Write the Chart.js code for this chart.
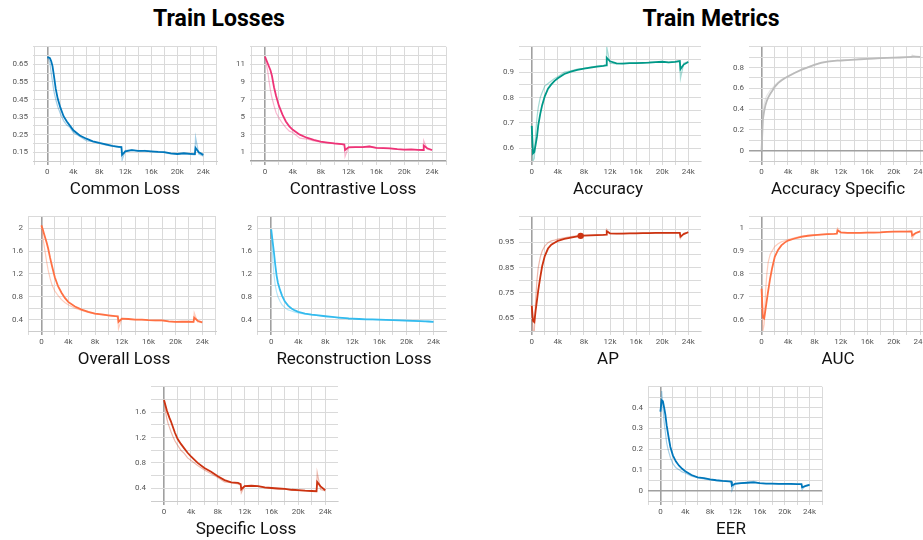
<!DOCTYPE html>
<html>
<head>
<meta charset="utf-8">
<script src="https://cdn.jsdelivr.net/npm/chart.js@4.4.1/dist/chart.umd.min.js"></script>
<style>
  html, body { margin: 0; padding: 0; background: #fff; width: 923px; height: 540px; overflow: hidden; }
  #board { position: relative; width: 923px; height: 540px; overflow: hidden; }
  canvas { position: absolute; }
  .head { position: absolute; font: bold 23px Roboto, sans-serif; color: #000; transform: translate(-50%, -50%); white-space: nowrap; }
  .cap { position: absolute; font: 17px Roboto, sans-serif; color: #111; transform: translate(-50%, -50%); white-space: nowrap; }
</style>
</head>
<body>
<div id="board"></div>
<script>
// Training steps at which the scalars were logged
const steps = [0, 200, 400, 600, 800, 1000, 1300, 1600, 2000, 2500, 3000, 3500, 4000, 5000, 6000, 7000, 8000, 9000, 10000, 11000, 11400, 11500, 12000, 13000, 14000, 15000, 16000, 17000, 18000, 19000, 20000, 21000, 22000, 22700, 22800, 23300, 24000];

// Smoothed curves and the raw values behind them
const commonLoss = [0.69, 0.69, 0.685, 0.668, 0.64, 0.59, 0.51, 0.455, 0.405, 0.355, 0.325, 0.3, 0.275, 0.245, 0.227, 0.212, 0.203, 0.195, 0.186, 0.181, 0.179, 0.135, 0.155, 0.162, 0.158, 0.158, 0.155, 0.152, 0.15, 0.143, 0.14, 0.144, 0.141, 0.139, 0.175, 0.15, 0.135];
const commonLossRaw = [0.69, 0.68, 0.66, 0.6, 0.55, 0.5, 0.45, 0.41, 0.37, 0.33, 0.305, 0.29, 0.262, 0.24, 0.215, 0.21, 0.2, 0.19, 0.184, 0.178, 0.18, 0.105, 0.16, 0.165, 0.155, 0.16, 0.152, 0.155, 0.148, 0.14, 0.142, 0.14, 0.138, 0.135, 0.235, 0.14, 0.128];

const contrastiveLoss = [11.9, 11.5, 11.1, 10.7, 10.3, 9.7, 8.4, 7.4, 6.3, 5.3, 4.5, 3.95, 3.55, 3.0, 2.65, 2.4, 2.2, 2.1, 2.0, 1.92, 1.88, 1.25, 1.55, 1.58, 1.57, 1.65, 1.5, 1.47, 1.44, 1.35, 1.3, 1.32, 1.27, 1.25, 1.75, 1.45, 1.25];
const contrastiveLossRaw = [11.8, 11.0, 10.2, 9.0, 8.0, 7.2, 6.3, 5.5, 4.9, 4.3, 3.8, 3.4, 3.25, 2.6, 2.5, 2.3, 2.15, 2.05, 1.95, 1.9, 1.85, 0.5, 1.6, 1.6, 1.55, 1.7, 1.48, 1.5, 1.4, 1.32, 1.3, 1.3, 1.25, 1.2, 2.3, 1.35, 1.2];

const accuracy = [0.688, 0.58, 0.585, 0.615, 0.645, 0.69, 0.735, 0.77, 0.805, 0.835, 0.852, 0.866, 0.876, 0.893, 0.902, 0.909, 0.914, 0.918, 0.922, 0.925, 0.927, 0.957, 0.943, 0.935, 0.934, 0.936, 0.936, 0.937, 0.938, 0.94, 0.941, 0.939, 0.941, 0.944, 0.912, 0.93, 0.94];
const accuracyRaw = [0.69, 0.55, 0.56, 0.66, 0.72, 0.76, 0.8, 0.82, 0.845, 0.855, 0.865, 0.875, 0.882, 0.9, 0.905, 0.912, 0.915, 0.92, 0.924, 0.926, 0.93, 1.0, 0.935, 0.933, 0.935, 0.935, 0.937, 0.936, 0.94, 0.94, 0.94, 0.938, 0.942, 0.945, 0.875, 0.935, 0.942];

const accuracySpecific = [0.0, 0.3, 0.38, 0.44, 0.48, 0.51, 0.545, 0.575, 0.615, 0.65, 0.675, 0.697, 0.714, 0.748, 0.778, 0.802, 0.825, 0.845, 0.857, 0.864, 0.867, 0.867, 0.868, 0.872, 0.876, 0.88, 0.884, 0.887, 0.89, 0.893, 0.895, 0.897, 0.9, 0.902, 0.905, 0.906, 0.903];
const accuracySpecificRaw = [0.0, 0.35, 0.45, 0.5, 0.53, 0.55, 0.58, 0.6, 0.63, 0.66, 0.685, 0.7, 0.72, 0.752, 0.782, 0.805, 0.828, 0.85, 0.86, 0.865, 0.87, 0.872, 0.866, 0.874, 0.875, 0.882, 0.883, 0.889, 0.889, 0.894, 0.894, 0.898, 0.9, 0.905, 0.92, 0.905, 0.902];

const overallLoss = [2.05, 1.98, 1.9, 1.82, 1.74, 1.65, 1.48, 1.33, 1.14, 0.98, 0.87, 0.78, 0.71, 0.63, 0.575, 0.535, 0.505, 0.49, 0.475, 0.46, 0.455, 0.36, 0.415, 0.41, 0.4, 0.4, 0.39, 0.385, 0.385, 0.37, 0.36, 0.365, 0.362, 0.36, 0.435, 0.38, 0.35];
const overallLossRaw = [2.05, 1.85, 1.7, 1.55, 1.4, 1.27, 1.12, 1.0, 0.9, 0.82, 0.75, 0.7, 0.66, 0.6, 0.56, 0.525, 0.5, 0.48, 0.47, 0.455, 0.45, 0.24, 0.42, 0.405, 0.4, 0.395, 0.385, 0.38, 0.38, 0.365, 0.36, 0.36, 0.355, 0.355, 0.52, 0.36, 0.345];

const reconstructionLoss = [1.98, 1.78, 1.58, 1.36, 1.17, 1.04, 0.92, 0.82, 0.72, 0.645, 0.595, 0.56, 0.535, 0.505, 0.487, 0.472, 0.458, 0.446, 0.435, 0.425, 0.42, 0.418, 0.415, 0.41, 0.405, 0.402, 0.398, 0.394, 0.39, 0.387, 0.383, 0.378, 0.373, 0.37, 0.37, 0.366, 0.36];
const reconstructionLossRaw = [1.98, 1.5, 1.2, 1.0, 0.88, 0.8, 0.72, 0.66, 0.61, 0.57, 0.55, 0.53, 0.515, 0.497, 0.48, 0.468, 0.455, 0.445, 0.43, 0.422, 0.42, 0.415, 0.412, 0.408, 0.403, 0.4, 0.396, 0.392, 0.388, 0.385, 0.38, 0.376, 0.371, 0.368, 0.368, 0.364, 0.358];

const ap = [0.70, 0.64, 0.635, 0.68, 0.72, 0.76, 0.81, 0.855, 0.895, 0.925, 0.94, 0.948, 0.955, 0.963, 0.968, 0.973, 0.976, 0.977, 0.978, 0.979, 0.98, 0.993, 0.985, 0.984, 0.984, 0.985, 0.985, 0.986, 0.986, 0.987, 0.987, 0.987, 0.987, 0.987, 0.972, 0.982, 0.989];
const apRaw = [0.70, 0.6, 0.6, 0.72, 0.8, 0.85, 0.89, 0.915, 0.935, 0.948, 0.955, 0.958, 0.962, 0.967, 0.972, 0.975, 0.977, 0.978, 0.979, 0.98, 0.98, 1.0, 0.984, 0.984, 0.985, 0.985, 0.986, 0.986, 0.987, 0.987, 0.988, 0.987, 0.988, 0.988, 0.965, 0.985, 0.99];
// Highlighted sample on the AP curve
const apMarkerStep = 7500;
const apMarkerValue = 0.975;

const auc = [0.735, 0.61, 0.605, 0.645, 0.685, 0.725, 0.78, 0.825, 0.875, 0.905, 0.925, 0.937, 0.946, 0.955, 0.962, 0.967, 0.97, 0.972, 0.974, 0.975, 0.976, 0.99, 0.982, 0.98, 0.98, 0.98, 0.981, 0.981, 0.982, 0.984, 0.985, 0.985, 0.985, 0.986, 0.968, 0.978, 0.986];
const aucRaw = [0.735, 0.55, 0.58, 0.72, 0.8, 0.85, 0.885, 0.9, 0.92, 0.932, 0.94, 0.945, 0.95, 0.958, 0.965, 0.968, 0.971, 0.973, 0.975, 0.976, 0.977, 1.0, 0.98, 0.981, 0.98, 0.981, 0.982, 0.982, 0.983, 0.985, 0.985, 0.986, 0.986, 0.987, 0.955, 0.98, 0.987];

const specificLoss = [1.79, 1.71, 1.63, 1.57, 1.51, 1.46, 1.37, 1.28, 1.18, 1.1, 1.03, 0.96, 0.905, 0.8, 0.72, 0.66, 0.59, 0.53, 0.495, 0.485, 0.465, 0.385, 0.435, 0.44, 0.435, 0.415, 0.405, 0.397, 0.39, 0.377, 0.37, 0.362, 0.358, 0.354, 0.5, 0.43, 0.37];
const specificLossRaw = [1.8, 1.62, 1.5, 1.42, 1.36, 1.3, 1.22, 1.15, 1.08, 1.0, 0.95, 0.88, 0.84, 0.76, 0.69, 0.63, 0.57, 0.5, 0.49, 0.47, 0.455, 0.33, 0.44, 0.43, 0.43, 0.405, 0.4, 0.39, 0.385, 0.372, 0.365, 0.36, 0.352, 0.35, 0.65, 0.38, 0.36];

const eer = [0.38, 0.435, 0.43, 0.4, 0.365, 0.315, 0.26, 0.21, 0.17, 0.14, 0.12, 0.105, 0.093, 0.075, 0.064, 0.06, 0.054, 0.05, 0.047, 0.045, 0.044, 0.024, 0.033, 0.036, 0.038, 0.04, 0.036, 0.034, 0.034, 0.032, 0.032, 0.032, 0.031, 0.031, 0.016, 0.022, 0.028];
const eerRaw = [0.38, 0.48, 0.4, 0.33, 0.28, 0.23, 0.19, 0.16, 0.13, 0.11, 0.1, 0.09, 0.085, 0.07, 0.062, 0.056, 0.052, 0.048, 0.046, 0.044, 0.043, 0.0, 0.035, 0.038, 0.04, 0.045, 0.035, 0.034, 0.033, 0.032, 0.033, 0.03, 0.03, 0.03, 0.005, 0.025, 0.03];

// Axis labels
const xTickValues = [0, 4000, 8000, 12000, 16000, 20000, 24000];
const xTickLabels = ['0', '4k', '8k', '12k', '16k', '20k', '24k'];
const commonTicks = [0.15, 0.25, 0.35, 0.45, 0.55, 0.65];
const contrastiveTicks = [1, 3, 5, 7, 9, 11];
const accuracyTicks = [0.6, 0.7, 0.8, 0.9];
const accuracySpecificTicks = [0, 0.2, 0.4, 0.6, 0.8];
const overallTicks = [0.4, 0.8, 1.2, 1.6, 2];
const reconstructionTicks = [0.4, 0.8, 1.2, 1.6, 2];
const apTicks = [0.65, 0.75, 0.85, 0.95];
const aucTicks = [0.6, 0.7, 0.8, 0.9, 1];
const specificTicks = [0.4, 0.8, 1.2, 1.6];
const eerTicks = [0, 0.1, 0.2, 0.3, 0.4];

const headers = [
  { text: 'Train Losses', x: 219, y: 18 },
  { text: 'Train Metrics', x: 711, y: 18 }
];

// Panel layout: plot box [left, right, top, bottom] in page pixels, axis ranges, grid step
const panels = [
  { title: 'Common Loss', smooth: commonLoss, raw: commonLossRaw, color: '#0077bb', yTicks: commonTicks,
    box: [33, 217, 45, 161], xr: [-2200, 26100], yr: [0.1, 0.75], yStep: 0.05, cap: [125, 188] },
  { title: 'Contrastive Loss', smooth: contrastiveLoss, raw: contrastiveLossRaw, color: '#ee3377', yTicks: contrastiveTicks,
    box: [250, 446, 45, 161], xr: [-2150, 26000], yr: [0, 13], yStep: 1, cap: [353, 188] },
  { title: 'Accuracy', smooth: accuracy, raw: accuracyRaw, color: '#009988', yTicks: accuracyTicks,
    box: [519, 701, 45, 161], xr: [-1950, 25950], yr: [0.55, 1.0], yStep: 0.05, cap: [608, 188] },
  { title: 'Accuracy Specific', smooth: accuracySpecific, raw: accuracySpecificRaw, color: '#bbbbbb', yTicks: accuracySpecificTicks,
    box: [749, 933, 45, 161], xr: [-1900, 25950], yr: [-0.1, 1.0], yStep: 0.1, cap: [838, 188] },
  { title: 'Overall Loss', smooth: overallLoss, raw: overallLossRaw, color: '#ff7043', yTicks: overallTicks,
    box: [28, 216, 215, 331], xr: [-2000, 26050], yr: [0.2, 2.2], yStep: 0.2, cap: [124, 358] },
  { title: 'Reconstruction Loss', smooth: reconstructionLoss, raw: reconstructionLossRaw, color: '#33bbee', yTicks: reconstructionTicks,
    box: [257, 446, 215, 331], xr: [-2100, 25850], yr: [0.2, 2.2], yStep: 0.2, cap: [354, 358] },
  { title: 'AP', smooth: ap, raw: apRaw, color: '#cc3311', yTicks: apTicks, marker: [apMarkerStep, apMarkerValue],
    box: [519, 701, 215, 331], xr: [-1950, 25950], yr: [0.6, 1.05], yStep: 0.05, cap: [608, 358] },
  { title: 'AUC', smooth: auc, raw: aucRaw, color: '#ff7043', yTicks: aucTicks,
    box: [749, 933, 215, 331], xr: [-1900, 25950], yr: [0.55, 1.05], yStep: 0.05, cap: [838, 358] },
  { title: 'Specific Loss', smooth: specificLoss, raw: specificLossRaw, color: '#cc3311', yTicks: specificTicks,
    box: [151, 338, 385, 501], xr: [-1950, 25900], yr: [0.2, 2.0], yStep: 0.2, cap: [246, 528] },
  { title: 'EER', smooth: eer, raw: eerRaw, color: '#0077bb', yTicks: eerTicks,
    box: [648, 822, 385, 501], xr: [-2000, 26000], yr: [-0.05, 0.5], yStep: 0.05, cap: [731, 528] }
];

const board = document.getElementById('board');
const Y_AXIS_W = 34, X_AXIS_H = 22, PAD_TOP = 8, PAD_RIGHT = 6;
const GRID = '#dadada', ZERO = '#a0a0a0';

function gridValues(min, max, step) {
  const out = [];
  for (let k = Math.ceil(min / step - 1e-9); k * step <= max + 1e-9; k++) {
    out.push(Math.round(k * step * 1e6) / 1e6);
  }
  return out;
}

function withAlpha(hex, a) {
  const n = parseInt(hex.slice(1), 16);
  return `rgba(${(n >> 16) & 255},${(n >> 8) & 255},${n & 255},${a})`;
}

headers.forEach(h => {
  const d = document.createElement('div');
  d.className = 'head';
  d.textContent = h.text;
  d.style.left = h.x + 'px';
  d.style.top = h.y + 'px';
  board.appendChild(d);
});

panels.forEach(p => {
  const [L, R, T, B] = p.box;
  const cv = document.createElement('canvas');
  const W = Y_AXIS_W + (R - L) + PAD_RIGHT;
  const H = PAD_TOP + (B - T) + X_AXIS_H;
  cv.width = W; cv.height = H;
  cv.style.width = W + 'px'; cv.style.height = H + 'px';
  cv.style.left = (L - Y_AXIS_W) + 'px';
  cv.style.top = (T - PAD_TOP) + 'px';
  board.appendChild(cv);

  const cap = document.createElement('div');
  cap.className = 'cap';
  cap.textContent = p.title;
  cap.style.left = p.cap[0] + 'px';
  cap.style.top = p.cap[1] + 'px';
  board.appendChild(cap);

  const datasets = [
    { data: steps.map((s, i) => ({ x: s, y: p.smooth[i] })), borderColor: p.color, borderWidth: 1.8, pointRadius: 0, tension: 0 },
    { data: steps.map((s, i) => ({ x: s, y: p.raw[i] })), borderColor: withAlpha(p.color, 0.35), borderWidth: 1.2, pointRadius: 0, tension: 0 }
  ];
  if (p.marker) {
    datasets.unshift({ data: [{ x: p.marker[0], y: p.marker[1] }], borderColor: p.color, backgroundColor: p.color,
      pointRadius: 3.2, pointBorderWidth: 0, showLine: false });
  }

  const xGrid = gridValues(p.xr[0], p.xr[1], 2000);
  const yGrid = gridValues(p.yr[0], p.yr[1], p.yStep);
  const font = { family: 'Roboto', size: 8 };

  new Chart(cv, {
    type: 'line',
    data: { datasets },
    options: {
      responsive: false,
      animation: false,
      devicePixelRatio: 1,
      layout: { padding: { top: PAD_TOP, right: PAD_RIGHT, left: 0, bottom: 0 } },
      plugins: { legend: { display: false }, tooltip: { enabled: false } },
      scales: {
        x: {
          type: 'linear', min: p.xr[0], max: p.xr[1],
          afterBuildTicks: s => { s.ticks = xGrid.map(v => ({ value: v })); },
          afterFit: s => { s.height = X_AXIS_H; },
          ticks: {
            autoSkip: false, maxRotation: 0, padding: 2, color: '#555', font,
            callback: v => { const i = xTickValues.indexOf(v); return i >= 0 ? xTickLabels[i] : ''; }
          },
          grid: {
            color: c => (c.tick && c.tick.value === 0 ? ZERO : GRID),
            lineWidth: c => (c.tick && c.tick.value === 0 ? 1.6 : 1),
            tickLength: 4, drawTicks: true
          },
          border: { display: true, color: '#cccccc', width: 1 }
        },
        y: {
          type: 'linear', min: p.yr[0], max: p.yr[1],
          afterBuildTicks: s => { s.ticks = yGrid.map(v => ({ value: v })); },
          afterFit: s => { s.width = Y_AXIS_W; },
          ticks: {
            autoSkip: false, padding: 5, color: '#555', font,
            callback: v => { const t = p.yTicks.find(t => Math.abs(t - v) < 1e-7); return t === undefined ? '' : String(t); }
          },
          grid: {
            color: c => (c.tick && Math.abs(c.tick.value) < 1e-9 ? ZERO : GRID),
            lineWidth: c => (c.tick && Math.abs(c.tick.value) < 1e-9 ? 1.6 : 1),
            drawTicks: false
          },
          border: { display: false }
        }
      }
    }
  });
});
</script>
</body>
</html>
